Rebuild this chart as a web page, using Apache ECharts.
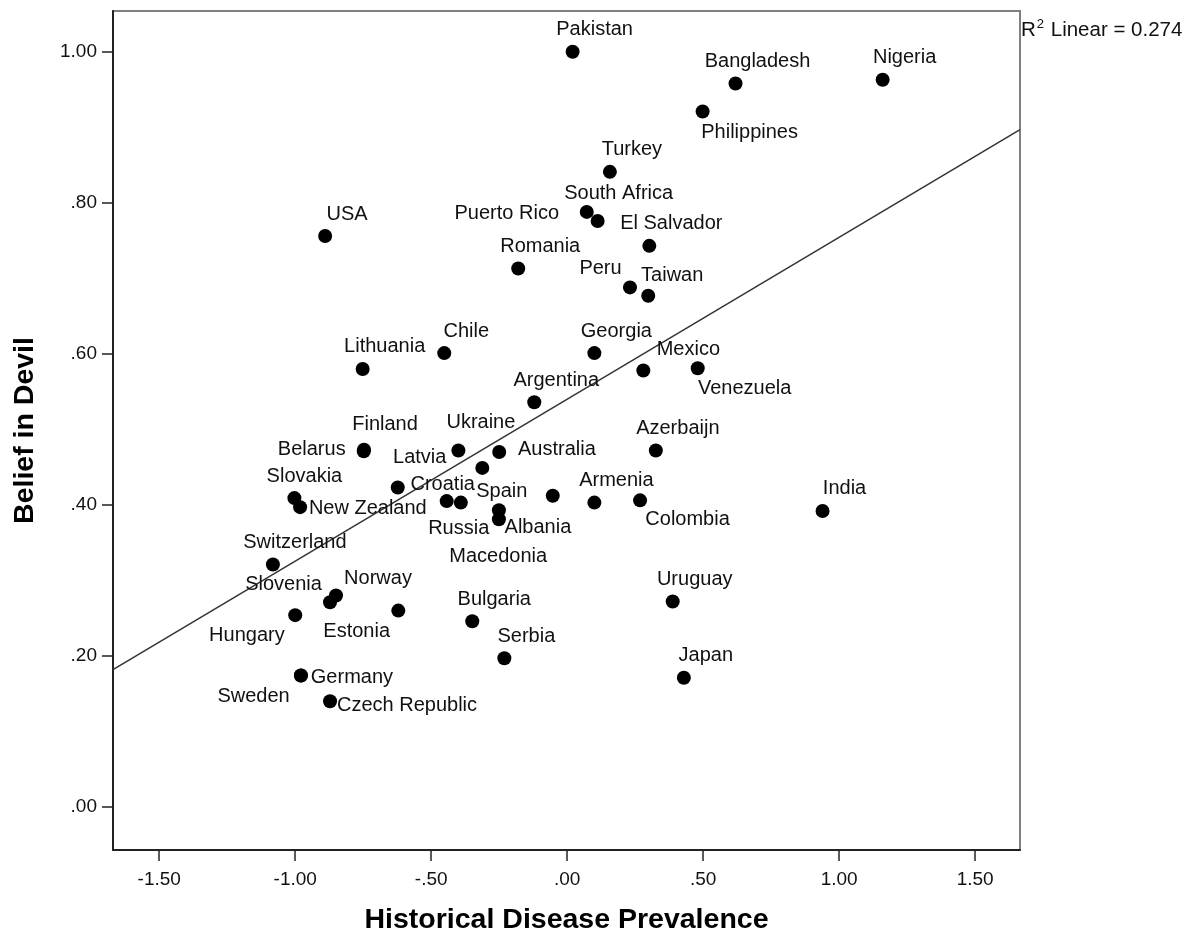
<!DOCTYPE html>
<html>
<head>
<meta charset="utf-8">
<script src="https://cdn.jsdelivr.net/npm/echarts@6/dist/echarts.min.js"></script>
<style>
  html, body { margin: 0; padding: 0; background: #fff; }
  #chart { width: 1195px; height: 940px; }
</style>
</head>
<body>
<div id="chart"></div>
<script>
// ---- Data ----
const countries = [
  'Pakistan', 'Bangladesh', 'Nigeria', 'Philippines', 'Turkey', 'Puerto Rico', 'South Africa',
  'El Salvador', 'USA', 'Romania', 'Peru', 'Taiwan', 'Chile', 'Lithuania', 'Georgia', 'Mexico',
  'Venezuela', 'Argentina', 'Finland', 'Belarus', 'Ukraine', 'Latvia', 'Australia', 'Azerbaijn',
  'Slovakia', 'New Zealand', 'Croatia', 'Russia', 'Spain', 'Albania', 'Macedonia', '',
  'Armenia', 'Colombia', 'India', 'Switzerland', 'Norway', 'Slovenia', 'Hungary', 'Estonia',
  'Bulgaria', 'Serbia', 'Uruguay', 'Japan', 'Germany', 'Sweden', 'Czech Republic'
];
const diseasePrevalence = [
  0.02, 0.619, 1.16, 0.498, 0.157, 0.072, 0.112,
  0.302, -0.89, -0.18, 0.231, 0.298, -0.452, -0.752, 0.10, 0.28,
  0.48, -0.121, -0.747, -0.748, -0.40, -0.312, -0.25, 0.326,
  -1.003, -0.982, -0.623, -0.443, -0.391, -0.251, -0.251, -0.053,
  0.10, 0.268, 0.939, -1.082, -0.85, -0.872, -1.00, -0.621,
  -0.349, -0.231, 0.388, 0.429, -0.979, -0.979, -0.872
];
const beliefInDevil = [
  1.00, 0.958, 0.963, 0.921, 0.841, 0.788, 0.776,
  0.743, 0.756, 0.713, 0.688, 0.677, 0.601, 0.58, 0.601, 0.578,
  0.581, 0.536, 0.473, 0.471, 0.472, 0.449, 0.47, 0.472,
  0.409, 0.397, 0.423, 0.405, 0.403, 0.393, 0.381, 0.412,
  0.403, 0.406, 0.392, 0.321, 0.28, 0.271, 0.254, 0.26,
  0.246, 0.197, 0.272, 0.171, 0.174, 0.174, 0.14
];
const xTickValues = [-1.5, -1.0, -0.5, 0, 0.5, 1.0, 1.5];
const yTickValues = [0, 0.2, 0.4, 0.6, 0.8, 1.0];
const fitIntercept = 0.540;
const fitSlope = 0.2144;
const rSquared = 0.274;
const xTitle = 'Historical Disease Prevalence';
const yTitle = 'Belief in Devil';

// ---- Styling: label placement around each dot (pixels, label centre relative to dot) ----
const D = [22, -22];
const labelOffsets = {
  'Philippines': [47, 21], 'South Africa': [21, -27], 'Puerto Rico': [-80, 2],
  'Peru': [-29.5, -19], 'Taiwan': [24, -20], 'Mexico': [45, -21], 'Venezuela': [47, 20],
  'Finland': [21, -25], 'Belarus': [-52, -2], 'Ukraine': [22.5, -28], 'Latvia': [-62.6, -10.6],
  'Australia': [57.7, -2.3], 'Slovakia': [10, -21.6], 'New Zealand': [67.7, 1],
  'Croatia': [45, -3.4], 'Russia': [12, 27], 'Spain': [41, -11.6], 'Albania': [39, 17.6],
  'Macedonia': [-0.7, 37.3], 'Colombia': [47.5, 19.3], 'Norway': [42, -17],
  'Slovenia': [-46.5, -17.7], 'Hungary': [-48.3, 20.7], 'Estonia': [-41.6, 21.3],
  'Germany': [51, 2.3], 'Sweden': [-47.4, 20.7], 'Czech Republic': [77, 4.3]
};

const XMIN = -1.67, XMAX = 1.665, YMIN = -0.057, YMAX = 1.054;
const FONT = '"Liberation Sans", Arial, Helvetica, sans-serif';
const fmt = v => v.toFixed(2).replace(/^(-?)0\./, '$1.');

const points = countries.map((c, i) => ({
  name: c,
  value: [diseasePrevalence[i], beliefInDevil[i]],
  label: c ? {
    show: true,
    position: 'inside',
    offset: labelOffsets[c] || D,
    align: 'center',
    verticalAlign: 'middle'
  } : { show: false }
}));

const fitLine = [XMIN, XMAX].map(x => [x, fitIntercept + fitSlope * x]);

const chart = echarts.init(document.getElementById('chart'), null, { renderer: 'canvas' });
chart.setOption({
  animation: false,
  backgroundColor: '#ffffff',
  textStyle: { fontFamily: FONT },
  grid: {
    left: 113, right: 175, top: 11, bottom: 90,
    show: true, borderColor: '#808080', borderWidth: 2, backgroundColor: 'transparent'
  },
  xAxis: {
    type: 'value', min: XMIN, max: XMAX,
    name: xTitle, nameLocation: 'middle', nameGap: 56,
    nameTextStyle: { fontSize: 28.5, fontWeight: 'bold', color: '#000', fontFamily: FONT },
    axisLine: { show: true, onZero: false, lineStyle: { color: '#222', width: 2 } },
    axisTick: { show: true, inside: false, length: 11, customValues: xTickValues, lineStyle: { color: '#222', width: 1.5 } },
    axisLabel: { customValues: xTickValues, formatter: fmt, fontSize: 19, color: '#111', margin: 20, fontFamily: FONT },
    splitLine: { show: false }
  },
  yAxis: {
    type: 'value', min: YMIN, max: YMAX,
    name: yTitle, nameLocation: 'middle', nameGap: 73, nameRotate: 90,
    nameTextStyle: { fontSize: 28.5, fontWeight: 'bold', color: '#000', fontFamily: FONT },
    axisLine: { show: true, onZero: false, lineStyle: { color: '#222', width: 2 } },
    axisTick: { show: true, inside: false, length: 11, customValues: yTickValues, lineStyle: { color: '#222', width: 1.5 } },
    axisLabel: { customValues: yTickValues, formatter: fmt, fontSize: 19, color: '#111', margin: 16, fontFamily: FONT },
    splitLine: { show: false }
  },
  graphic: [{
    type: 'text', left: 1021, top: 18,
    style: {
      text: '{a|R}{b|2}{a| Linear = ' + rSquared.toFixed(3) + '}',
      rich: {
        a: { fontSize: 20.5, fontFamily: FONT, fill: '#111', lineHeight: 24 },
        b: { fontSize: 13, fontFamily: FONT, fill: '#111', verticalAlign: 'top', lineHeight: 24, padding: [0, 1, 8, 1] }
      }
    }
  }],
  series: [
    {
      type: 'line', data: fitLine, symbol: 'none', silent: true, z: 1,
      lineStyle: { color: '#333', width: 1.5 }
    },
    {
      type: 'scatter', data: points, symbol: 'circle', symbolSize: 14, z: 2,
      itemStyle: { color: '#000', opacity: 1 },
      label: { fontSize: 20, color: '#111', opacity: 1, fontFamily: FONT, formatter: p => p.name }
    }
  ]
});
</script>
</body>
</html>
